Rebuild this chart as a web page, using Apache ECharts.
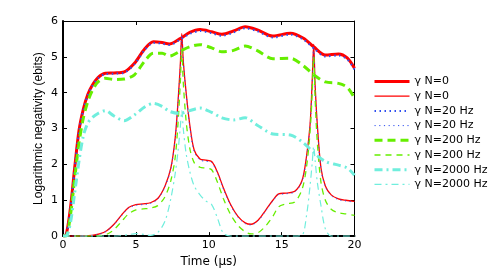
<!DOCTYPE html>
<html><head><meta charset="utf-8">
<script src="https://cdn.jsdelivr.net/npm/echarts@6/dist/echarts.min.js"></script>
<style>html,body{margin:0;padding:0;background:#fff}#c{width:491px;height:273px}</style>
</head><body><div id="c"></div>
<script>
// x samples for the upper (smooth) curves
const xUpper = [0, 0.2, 0.5, 0.8, 1.1, 1.4, 1.7, 2.0, 2.4, 2.9, 3.5, 4.2, 4.9, 5.6, 6.2, 6.8, 7.3, 8.0, 8.7, 9.4, 10.2, 10.9, 11.7, 12.5, 13.3, 14.4, 15.6, 16.5, 17.2, 18.0, 18.9, 19.5, 20];
const redUpper   = [0, 0.02, 0.75, 1.9, 2.95, 3.55, 3.95, 4.2, 4.42, 4.54, 4.55, 4.58, 4.82, 5.22, 5.42, 5.4, 5.36, 5.5, 5.68, 5.76, 5.7, 5.63, 5.72, 5.84, 5.76, 5.58, 5.66, 5.52, 5.28, 5.05, 5.08, 4.97, 4.68];
const blueUpper  = [0, 0.02, 0.73, 1.88, 2.93, 3.53, 3.93, 4.18, 4.4, 4.52, 4.53, 4.56, 4.79, 5.19, 5.39, 5.37, 5.33, 5.47, 5.64, 5.72, 5.66, 5.59, 5.68, 5.8, 5.72, 5.54, 5.62, 5.48, 5.24, 5.01, 5.04, 4.93, 4.65];
const greenUpper = [0, 0, 0.55, 1.6, 2.6, 3.3, 3.75, 4.05, 4.3, 4.4, 4.37, 4.38, 4.5, 4.88, 5.1, 5.1, 5.02, 5.15, 5.28, 5.34, 5.25, 5.14, 5.18, 5.3, 5.18, 4.95, 4.96, 4.75, 4.5, 4.3, 4.26, 4.15, 3.85];
const cyanUpper  = [0, 0, 0.35, 1.2, 2.1, 2.8, 3.15, 3.3, 3.42, 3.5, 3.35, 3.22, 3.38, 3.6, 3.7, 3.62, 3.48, 3.42, 3.5, 3.57, 3.45, 3.3, 3.24, 3.3, 3.1, 2.85, 2.82, 2.6, 2.33, 2.08, 1.98, 1.9, 1.7];

// x samples for the lower (peaked) curves
const xLower = [0, 1, 2, 2.5, 3, 3.5, 4, 4.5, 5, 5.5, 6, 6.5, 7, 7.4, 7.7, 7.9, 8.05, 8.15, 8.25, 8.45, 8.7, 9.0, 9.4, 9.8, 10.2, 10.6, 11.0, 11.5, 12.0, 12.5, 12.9, 13.4, 13.9, 14.4, 14.8, 15.3, 15.9, 16.4, 16.7, 16.95, 17.1, 17.2, 17.3, 17.45, 17.7, 18.0, 18.4, 18.9, 19.4, 20];
const redLower   = [0, 0, 0.02, 0.06, 0.15, 0.33, 0.58, 0.8, 0.88, 0.9, 0.93, 1.05, 1.4, 1.9, 2.75, 3.8, 4.8, 5.65, 4.9, 4.0, 3.1, 2.4, 2.15, 2.12, 2.08, 1.78, 1.35, 0.88, 0.55, 0.37, 0.33, 0.45, 0.72, 1.0, 1.18, 1.2, 1.25, 1.55, 2.2, 3.1, 4.35, 5.35, 4.2, 3.1, 1.9, 1.4, 1.15, 1.04, 1.0, 0.97];
const blueLower  = [0, 0, 0.02, 0.05, 0.14, 0.32, 0.56, 0.78, 0.86, 0.88, 0.91, 1.03, 1.38, 1.88, 2.72, 3.76, 4.76, 5.6, 4.86, 3.96, 3.06, 2.36, 2.12, 2.09, 2.05, 1.75, 1.32, 0.86, 0.53, 0.35, 0.31, 0.43, 0.7, 0.98, 1.16, 1.18, 1.23, 1.52, 2.17, 3.06, 4.3, 5.3, 4.15, 3.06, 1.87, 1.38, 1.13, 1.02, 0.98, 0.95];
const greenLower = [0, 0, 0, 0.01, 0.05, 0.18, 0.4, 0.62, 0.73, 0.76, 0.78, 0.85, 1.1, 1.55, 2.2, 3.2, 4.3, 5.2, 4.3, 3.2, 2.45, 2.05, 1.92, 1.9, 1.85, 1.5, 1.05, 0.6, 0.3, 0.12, 0.06, 0.1, 0.28, 0.55, 0.82, 0.9, 0.95, 1.3, 1.9, 2.9, 4.0, 5.0, 3.8, 2.6, 1.5, 1.0, 0.75, 0.65, 0.62, 0.58];
const cyanLower  = [0, 0, 0, 0, 0, 0, 0.01, 0.04, 0.07, 0.05, 0.02, 0.1, 0.42, 1.05, 1.75, 2.4, 3.05, 3.5, 3.0, 2.3, 1.8, 1.4, 1.15, 0.98, 0.88, 0.5, 0.08, 0, 0, 0, 0, 0, 0, 0, 0, 0, 0, 0.02, 0.55, 1.4, 2.05, 2.5, 2.1, 1.5, 0.85, 0.2, 0, 0, 0, 0];

const legendLabels = ['γ N=0', 'γ N=0', 'γ N=20 Hz', 'γ N=20 Hz', 'γ N=200 Hz', 'γ N=200 Hz', 'γ N=2000 Hz', 'γ N=2000 Hz'];
const xTicks = [0, 5, 10, 15, 20];
const yTicks = [0, 1, 2, 3, 4, 5, 6];

const zip = (xs, ys) => xs.map((x, i) => [x, ys[i]]);
const RED = '#ff0000', BLUE = '#3050f0', GREEN = '#66ee00', CYAN = '#70eedd';

const defs = [
  {x: xUpper, y: redUpper,   color: RED,   width: 3,   type: 'solid'},
  {x: xLower, y: redLower,   color: RED,   width: 1.3, type: 'solid'},
  {x: xUpper, y: blueUpper,  color: BLUE,  width: 2,   type: [1.5, 3.5]},
  {x: xLower, y: blueLower,  color: BLUE,  width: 1,   type: [1.2, 3.5]},
  {x: xUpper, y: greenUpper, color: GREEN, width: 3,   type: [8, 5]},
  {x: xLower, y: greenLower, color: GREEN, width: 1.3, type: [6, 5]},
  {x: xUpper, y: cyanUpper,  color: CYAN,  width: 3,   type: [8, 4, 2, 4]},
  {x: xLower, y: cyanLower,  color: CYAN,  width: 1.2, type: [7, 4, 2, 4]}
];

const names = defs.map((d, i) => 's' + i + '|' + legendLabels[i]);
const series = defs.map((d, i) => ({
  name: names[i],
  type: 'line',
  data: zip(d.x, d.y),
  smooth: 0.3,
  symbol: 'none',
  clip: true,
  xAxisIndex: 0, yAxisIndex: 0,
  lineStyle: {color: d.color, width: d.width, type: d.type},
  itemStyle: {color: d.color},
  animation: false
}));

const chart = echarts.init(document.getElementById('c'), null, {renderer: 'canvas'});
const FONT = 'DejaVu Sans';
chart.setOption({
  animation: false,
  grid: {left: 63, right: 136.5, top: 21, bottom: 31.5},
  legend: {
    orient: 'vertical', left: 368, top: 71,
    itemWidth: 35, itemHeight: 10, itemGap: 3.7,
    itemStyle: {opacity: 0, borderWidth: 0},
    data: defs.map((d, i) => ({
      name: names[i],
      lineStyle: {color: d.color, width: d.width, type: d.type}
    })),
    textStyle: {fontFamily: FONT, fontSize: 11, color: '#000', lineHeight: 10},
    formatter: n => n.split('|')[1],
    selectedMode: false
  },
  xAxis: [
    {type: 'value', min: xTicks[0], max: xTicks[xTicks.length - 1], interval: 5, position: 'bottom',
     name: 'Time (μs)', nameLocation: 'middle', nameGap: 16,
     nameTextStyle: {fontFamily: FONT, fontSize: 12, color: '#000'},
     axisLine: {show: true, onZero: false, lineStyle: {color: '#000', width: 2}},
     axisTick: {inside: true, length: 4, lineStyle: {color: '#000'}},
     axisLabel: {fontFamily: FONT, fontSize: 11, color: '#000', margin: 4},
     splitLine: {show: false}},
    {type: 'value', min: xTicks[0], max: xTicks[xTicks.length - 1], interval: 5, position: 'top',
     axisLine: {show: true, onZero: false, lineStyle: {color: '#000', width: 1}},
     axisTick: {inside: true, length: 4, lineStyle: {color: '#000'}},
     axisLabel: {show: false}, splitLine: {show: false}}
  ],
  yAxis: [
    {type: 'value', min: yTicks[0], max: yTicks[yTicks.length - 1], interval: 1, position: 'left',
     name: 'Logarithmic negativity (ebits)', nameLocation: 'middle', nameGap: 18, nameMoveOverlap: false,
     nameTextStyle: {fontFamily: 'Liberation Sans', fontSize: 12, color: '#000'},
     axisLine: {show: true, onZero: false, lineStyle: {color: '#000', width: 2}},
     axisTick: {inside: true, length: 4, lineStyle: {color: '#000'}},
     axisLabel: {fontFamily: FONT, fontSize: 11, color: '#000', margin: 5},
     splitLine: {show: false}},
    {type: 'value', min: yTicks[0], max: yTicks[yTicks.length - 1], interval: 1, position: 'right',
     axisLine: {show: true, onZero: false, lineStyle: {color: '#000', width: 1}},
     axisTick: {inside: true, length: 4, lineStyle: {color: '#000'}},
     axisLabel: {show: false}, splitLine: {show: false}}
  ],
  series: series
});
</script></body></html>
